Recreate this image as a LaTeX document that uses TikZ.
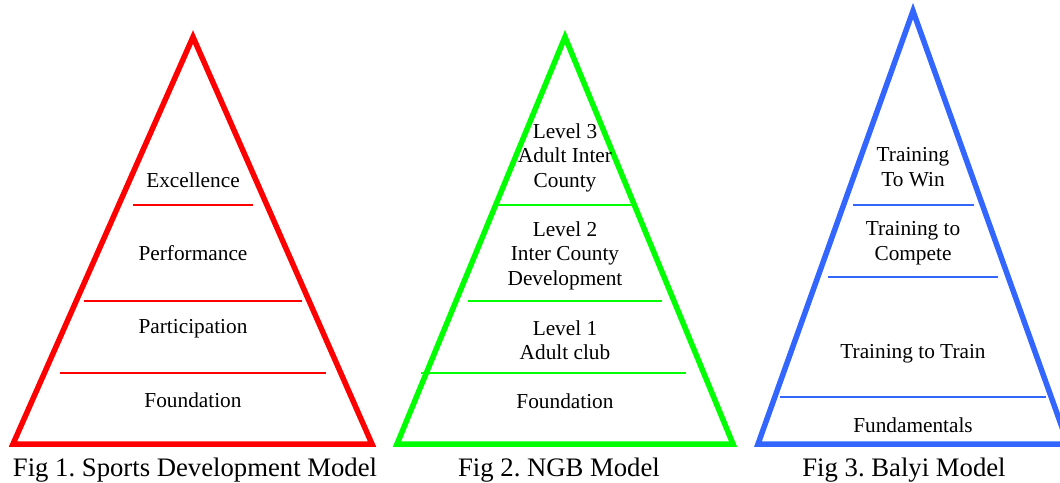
\documentclass[tikz,border=0pt]{standalone}
\usepackage{fontspec}
\setmainfont{Liberation Serif}
\frenchspacing
\definecolor{pr}{RGB}{255,0,0}
\definecolor{pg}{RGB}{0,255,0}
\definecolor{pb}{RGB}{51,102,255}
\tikzset{
  tri/.style={line width=5.5pt, line join=miter},
  sep/.style={line width=1.8pt},
  lbl/.style={anchor=north, inner sep=0pt, align=center, font=\fontsize{21.3}{24.5}\selectfont},
  figcap/.style={anchor=north, inner sep=0pt, font=\fontsize{26.7}{30}\selectfont}
}
\begin{document}
\begin{tikzpicture}[x=1pt,y=-1pt]
\useasboundingbox (0,0) rectangle (1060,482);
% Triangle 1
\coordinate (a1) at (193,37);
\coordinate (b1) at (13,444);
\coordinate (c1) at (372,444);
\draw[tri,pr] (a1) -- (b1) -- (c1) -- cycle;
\coordinate (l1a) at (133,205); \coordinate (r1a) at (253,205);
\coordinate (l1b) at (84,301);  \coordinate (r1b) at (302,301);
\coordinate (l1c) at (60,373);  \coordinate (r1c) at (326,373);
\draw[sep,pr] (l1a) -- (r1a);
\draw[sep,pr] (l1b) -- (r1b);
\draw[sep,pr] (l1c) -- (r1c);
\node[lbl] (t1a) at (193,172.5) {Excellence};
\node[lbl] (t1b) at (193,245.5) {Performance};
\node[lbl] (t1c) at (193,319.5) {Participation};
\node[lbl] (t1d) at (193,392.5) {Foundation};
\node[figcap] (f1) at (195,458) {Fig 1. Sports Development Model};
% Triangle 2
\coordinate (a2) at (565,37);
\coordinate (b2) at (397,444);
\coordinate (c2) at (733,444);
\draw[tri,pg] (a2) -- (b2) -- (c2) -- cycle;
\coordinate (l2a) at (498,205); \coordinate (r2a) at (632,205);
\coordinate (l2b) at (468,301); \coordinate (r2b) at (662,301);
\coordinate (l2c) at (421,373); \coordinate (r2c) at (686,373);
\draw[sep,pg] (l2a) -- (r2a);
\draw[sep,pg] (l2b) -- (r2b);
\draw[sep,pg] (l2c) -- (r2c);
\node[lbl] (t2a) at (565,123.5) {Level 3\\Adult Inter\\County};
\node[lbl] (t2b) at (565,221.5) {Level 2\\Inter County\\Development};
\node[lbl] (t2c) at (565,320.5) {Level 1\\Adult club};
\node[lbl] (t2d) at (565,393.5) {Foundation};
\node[figcap] (f2) at (559,458) {Fig 2. NGB Model};
% Triangle 3
\coordinate (a3) at (913,11);
\coordinate (b3) at (758,444);
\coordinate (c3) at (1068,444);
\draw[tri,pb] (a3) -- (b3) -- (c3) -- cycle;
\coordinate (l3a) at (853,205); \coordinate (r3a) at (974,205);
\coordinate (l3b) at (828,277); \coordinate (r3b) at (998,277);
\coordinate (l3c) at (780,397); \coordinate (r3c) at (1046,397);
\draw[sep,pb] (l3a) -- (r3a);
\draw[sep,pb] (l3b) -- (r3b);
\draw[sep,pb] (l3c) -- (r3c);
\node[lbl] (t3a) at (913,147.5) {Training\\To Win};
\node[lbl] (t3b) at (913,221.5) {Training to\\Compete};
\node[lbl] (t3c) at (913,344.5) {Training to Train};
\node[lbl] (t3d) at (913,417.5) {Fundamentals};
\node[figcap] (f3) at (904,458) {Fig 3. Balyi Model};
\end{tikzpicture}
\end{document}
